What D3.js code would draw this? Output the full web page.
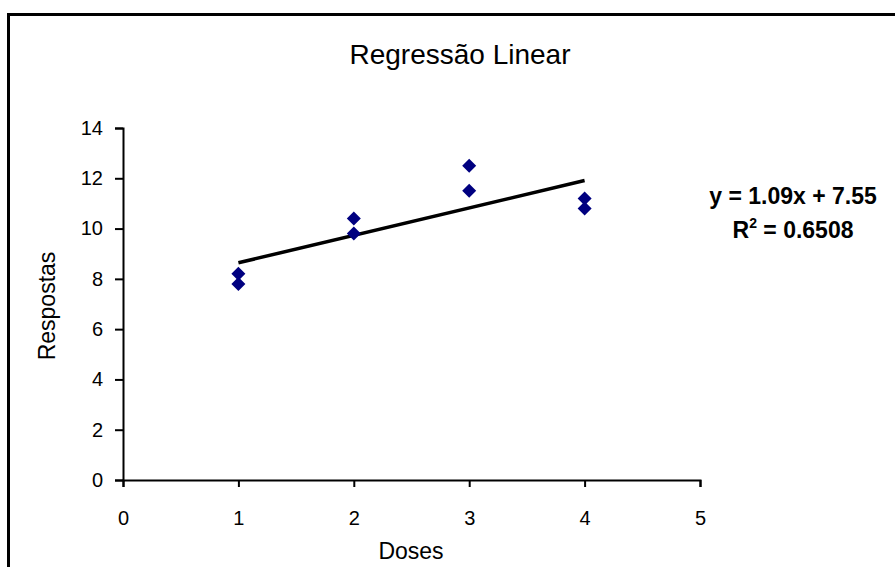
<!DOCTYPE html>
<html>
<head>
<meta charset="utf-8">
<script src="https://cdn.jsdelivr.net/npm/d3@7"></script>
<style>
  body { margin: 0; background: #fff; }
  svg { display: block; font-family: "Liberation Sans", Arial, sans-serif; }
</style>
</head>
<body>
<svg width="895" height="567"></svg>
<script>
// data
const DOSES = [1, 1, 2, 2, 3, 3, 4, 4];
const RESPOSTAS = [8.2, 7.8, 10.4, 9.8, 12.5, 11.5, 11.2, 10.8];
const X_TICKS = [0, 1, 2, 3, 4, 5];
const Y_TICKS = [0, 2, 4, 6, 8, 10, 12, 14];

const PLOT = { left: 123, right: 700, top: 128, bottom: 480 };

const svg = d3.select("svg");

// outer chart frame (runs off the right and bottom edge)
svg.append("rect")
  .attr("x", 8.5).attr("y", 14.5)
  .attr("width", 920).attr("height", 600)
  .attr("fill", "#fff")
  .attr("stroke", "#000")
  .attr("stroke-width", 3);

const xScale = d3.scaleLinear().domain([0, 5]).range([PLOT.left, PLOT.right]);
const yScale = d3.scaleLinear().domain([0, 14]).range([PLOT.bottom, PLOT.top]);

// axes
const xAxis = svg.append("g")
  .attr("transform", `translate(0, ${PLOT.bottom})`)
  .call(d3.axisBottom(xScale).tickValues(X_TICKS).tickFormat(d3.format("d"))
    .tickSize(7).tickSizeOuter(7).tickPadding(24));

const yAxis = svg.append("g")
  .attr("transform", `translate(${PLOT.left}, 0)`)
  .call(d3.axisLeft(yScale).tickValues(Y_TICKS).tickFormat(d3.format("d"))
    .tickSize(8).tickSizeOuter(8).tickPadding(12));

[xAxis, yAxis].forEach(ax => {
  ax.attr("font-family", null).attr("font-size", null);
  ax.selectAll("path, line").attr("stroke", "#000").attr("stroke-width", 2);
  ax.selectAll("text").attr("fill", "#000").style("font-size", "20px");
});

// least squares fit
const xMean = d3.mean(DOSES);
const yMean = d3.mean(RESPOSTAS);
const sxy = d3.sum(DOSES, (x, i) => (x - xMean) * (RESPOSTAS[i] - yMean));
const sxx = d3.sum(DOSES, x => (x - xMean) ** 2);
const slope = sxy / sxx;
const intercept = yMean - slope * xMean;
const ssTot = d3.sum(RESPOSTAS, y => (y - yMean) ** 2);
const ssRes = d3.sum(DOSES, (x, i) => (RESPOSTAS[i] - (slope * x + intercept)) ** 2);
const r2 = 1 - ssRes / ssTot;

const xExtent = d3.extent(DOSES);
svg.append("path")
  .datum(xExtent.map(x => [x, slope * x + intercept]))
  .attr("fill", "none")
  .attr("stroke", "#000")
  .attr("stroke-width", 3.5)
  .attr("d", d3.line().x(d => xScale(d[0])).y(d => yScale(d[1])));

// diamond markers
svg.selectAll(".pt")
  .data(DOSES.map((x, i) => ({ x, y: RESPOSTAS[i] })))
  .enter()
  .append("path")
  .attr("class", "pt")
  .attr("d", "M0,-7L7,0L0,7L-7,0Z")
  .attr("fill", "#000080")
  .attr("transform", d => `translate(${xScale(d.x)}, ${yScale(d.y)})`);

// texts
svg.append("text")
  .attr("x", 460).attr("y", 64)
  .attr("text-anchor", "middle")
  .style("font-size", "28px")
  .text("Regressão Linear");

svg.append("text")
  .attr("x", 411).attr("y", 559)
  .attr("text-anchor", "middle")
  .style("font-size", "23px")
  .text("Doses");

svg.append("text")
  .attr("transform", "translate(55, 306) rotate(-90)")
  .attr("text-anchor", "middle")
  .style("font-size", "23px")
  .text("Respostas");

const eq = svg.append("text")
  .attr("text-anchor", "middle")
  .style("font-size", "23px")
  .style("font-weight", "bold");
eq.append("tspan").attr("x", 793).attr("y", 204)
  .text(`y = ${slope.toFixed(2)}x + ${intercept.toFixed(2)}`);
const r2Line = eq.append("tspan").attr("x", 793).attr("y", 238);
r2Line.append("tspan").text("R");
r2Line.append("tspan").attr("dy", -10).style("font-size", "14px").text("2");
r2Line.append("tspan").attr("dy", 10).text(` = ${r2.toFixed(4)}`);
</script>
</body>
</html>
